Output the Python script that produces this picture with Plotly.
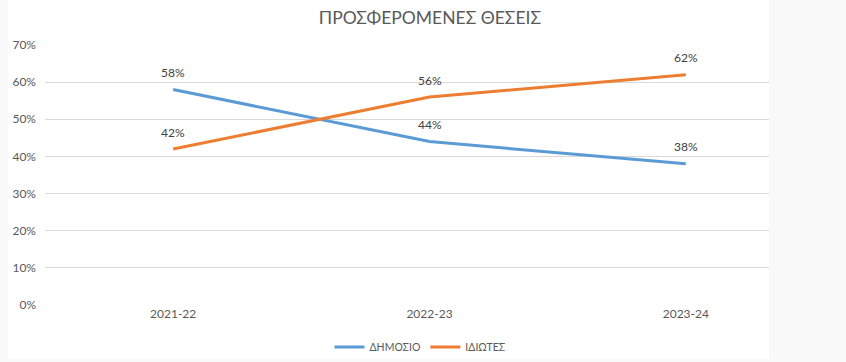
import plotly.graph_objects as go

categories = ["2021-22", "2022-23", "2023-24"]
dimosio = [0.58, 0.44, 0.38]
idiotes = [0.42, 0.56, 0.62]
dimosio_labels = ["58%", "44%", "38%"]
idiotes_labels = ["42%", "56%", "62%"]

W, H = 846, 362
L, R, T, B = 45, 32, 45, 57
pw = W - L - R
ph = H - T - B

def px_x(p):
    return (p - L) / pw

def px_y(p):
    return (H - B - p) / ph

font = "Lato, Open Sans, sans-serif"
fig = go.Figure()
fig.add_trace(go.Scatter(
    x=categories, y=dimosio, name="ΔΗΜΟΣΙΟ", mode="lines",
    line=dict(color="#5B9BD5", width=3),
))
fig.add_trace(go.Scatter(
    x=categories, y=idiotes, name="ΙΔΙΩΤΕΣ", mode="lines",
    line=dict(color="#ED7D31", width=3),
))

annotations = []
for xs, ys, labels in ((categories, dimosio, dimosio_labels), (categories, idiotes, idiotes_labels)):
    for xv, yv, lab in zip(xs, ys, labels):
        annotations.append(dict(x=xv, y=yv, text=lab, showarrow=False, yshift=17,
                                xanchor="center", yanchor="middle",
                                font=dict(size=12, color="#404040", family=font)))

shapes = [
    dict(type="rect", xref="paper", yref="paper", x0=px_x(769), x1=px_x(W + 2),
         y0=px_y(H + 2), y1=px_y(-2), fillcolor="#f9f9f9", line=dict(width=0), layer="above"),
    dict(type="rect", xref="paper", yref="paper", x0=px_x(-2), x1=px_x(8),
         y0=px_y(H + 2), y1=px_y(-2), fillcolor="#f9f9f9", line=dict(width=0), layer="above"),
    dict(type="rect", xref="paper", yref="paper", x0=px_x(-2), x1=px_x(W + 2),
         y0=px_y(H + 2), y1=px_y(359), fillcolor="#f9f9f9", line=dict(width=0), layer="above"),
]

fig.update_layout(
    width=W, height=H,
    margin=dict(l=L, r=R, t=T, b=B),
    paper_bgcolor="white", plot_bgcolor="white",
    font=dict(family=font, color="#595959", size=12),
    title=dict(text="ΠΡΟΣΦΕΡΟΜΕΝΕΣ ΘΕΣΕΙΣ", x=430 / W, xanchor="center",
               y=1 - 18 / H, yanchor="middle",
               font=dict(size=17.5, color="#595959", family=font)),
    xaxis=dict(type="category", range=[-0.5, 2.5], showgrid=False, zeroline=False,
               showline=False, ticks="", tickfont=dict(size=12, color="#595959")),
    yaxis=dict(range=[0, 0.7], dtick=0.1, tickformat=".0%", showgrid=True,
               gridcolor="#d9d9d9", gridwidth=1, zeroline=False, showline=False,
               ticks="", ticklabelstandoff=8, tickfont=dict(size=12, color="#595959")),
    legend=dict(orientation="h", xref="container", yref="container",
                x=420 / W, xanchor="center", y=1 - 347 / H, yanchor="middle",
                font=dict(size=10.5, color="#595959"), itemwidth=30, bgcolor="rgba(0,0,0,0)"),
    shapes=shapes,
    annotations=annotations,
    showlegend=True,
)

fig.write_html("out.html", config={"displayModeBar": False},
               post_script="document.body.style.margin='0';document.documentElement.style.margin='0';")
